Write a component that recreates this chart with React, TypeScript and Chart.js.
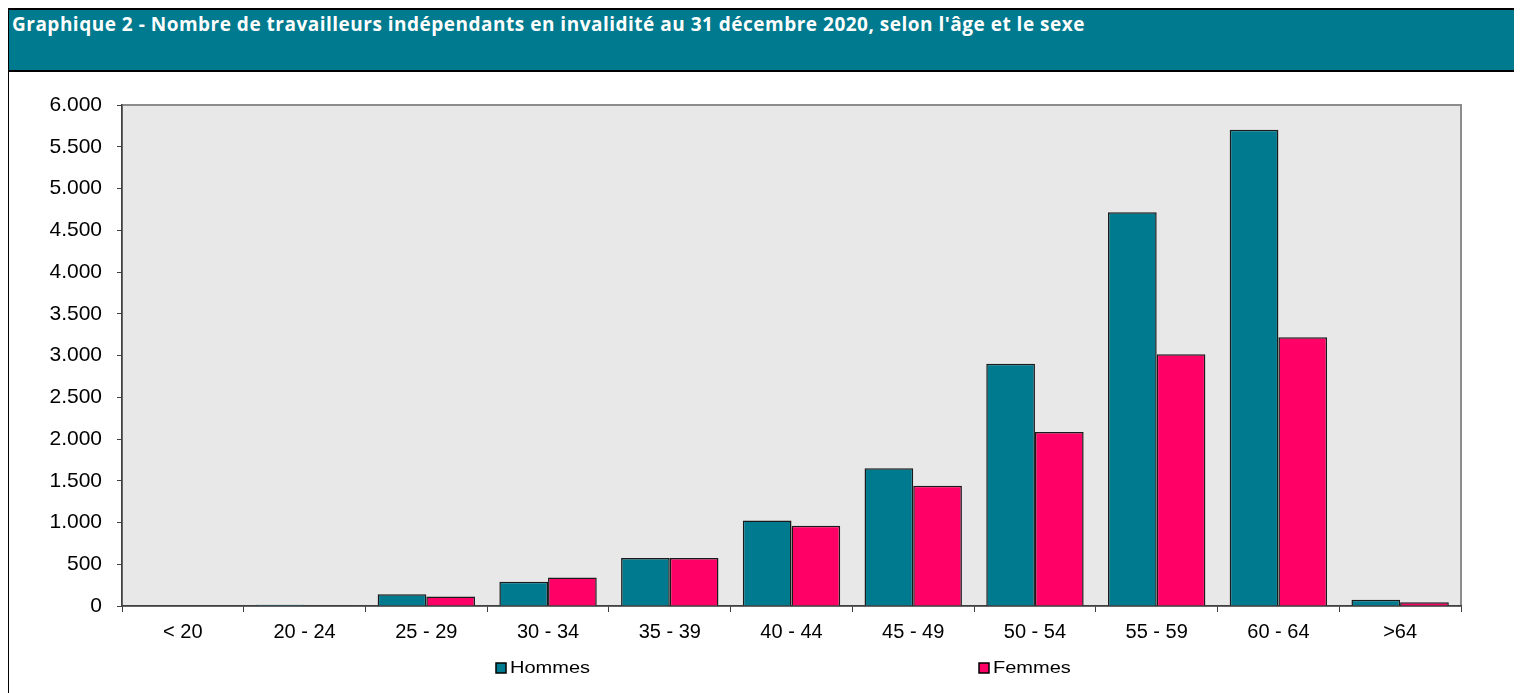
import React, { useEffect, useRef } from "react";
import { Chart, registerables } from "chart.js";

Chart.register(...registerables);

const TITLE =
  "Graphique 2 - Nombre de travailleurs indépendants en invalidité au 31 décembre 2020, selon l'âge et le sexe";

const categories = ["< 20", "20 - 24", "25 - 29", "30 - 34", "35 - 39", "40 - 44", "45 - 49", "50 - 54", "55 - 59", "60 - 64", ">64"];
const hommes = [0, 15, 140, 290, 575, 1025, 1650, 2900, 4715, 5705, 75];
const femmes = [0, 8, 115, 340, 575, 960, 1440, 2085, 3015, 3220, 45];
const seriesLabels = ["Hommes", "Femmes"];
const seriesColors = ["#007A8E", "#FF0066"];
const yMax = 6000;
const yStep = 500;

const TEAL = "#007A8E";

const plotBg = {
  id: "plotBg",
  beforeDraw(chart: any) {
    const { ctx, chartArea: a } = chart;
    ctx.save();
    ctx.fillStyle = "#E8E8E8";
    ctx.fillRect(a.left, a.top, a.right - a.left, a.bottom - a.top);
    ctx.strokeStyle = "#8C8C8C";
    ctx.lineWidth = 2;
    ctx.strokeRect(a.left, a.top, a.right - a.left, a.bottom - a.top);
    ctx.restore();
  },
};

const customLegend = {
  id: "customLegend",
  afterDraw(chart: any) {
    const { ctx } = chart;
    const xs = [487, 970];
    const y = 595;
    ctx.save();
    chart.data.datasets.forEach((ds: any, i: number) => {
      const x = xs[i];
      ctx.fillStyle = ds.backgroundColor;
      ctx.fillRect(x, y - 5, 10, 10);
      ctx.strokeStyle = "#000";
      ctx.lineWidth = 1.5;
      ctx.strokeRect(x, y - 5, 10, 10);
      ctx.fillStyle = "#000";
      ctx.textBaseline = "middle";
      ctx.textAlign = "left";
      ctx.font = "16px 'Liberation Sans', Arial, sans-serif";
      ctx.save();
      ctx.translate(x + 14, y + 1);
      ctx.scale(1.25, 1);
      ctx.fillText(ds.label, 0, 0);
      ctx.restore();
    });
    ctx.restore();
  },
};

export default function App() {
  const ref = useRef<HTMLCanvasElement | null>(null);

  useEffect(() => {
    if (!ref.current) return;
    const chart = new Chart(ref.current, {
      type: "bar",
      data: {
        labels: categories,
        datasets: [
          {
            label: seriesLabels[0],
            data: hommes,
            backgroundColor: seriesColors[0],
            borderColor: "#1a1a1a",
            borderWidth: 1.5,
            categoryPercentage: 0.8,
            barPercentage: 1.0,
          },
          {
            label: seriesLabels[1],
            data: femmes,
            backgroundColor: seriesColors[1],
            borderColor: "#1a1a1a",
            borderWidth: 1.5,
            categoryPercentage: 0.8,
            barPercentage: 1.0,
          },
        ],
      },
      options: {
        animation: false,
        responsive: false,
        maintainAspectRatio: false,
        layout: { padding: { left: 0, right: 56, top: 32, bottom: 0 } },
        plugins: {
          legend: { display: false },
          tooltip: { enabled: false },
          title: { display: false },
        },
        scales: {
          x: {
            grid: {
              display: true,
              drawOnChartArea: false,
              drawTicks: true,
              tickLength: 6,
              color: "#404040",
              offset: true,
            },
            border: { display: true, color: "#404040", width: 1.5 },
            ticks: {
              color: "#000",
              font: { family: "'Liberation Sans', Arial, sans-serif", size: 20 },
              padding: 8,
              maxRotation: 0,
              autoSkip: false,
            },
            afterFit(scale: any) {
              scale.height = 89;
            },
          },
          y: {
            min: 0,
            max: yMax,
            grid: {
              display: true,
              drawOnChartArea: false,
              drawTicks: true,
              tickLength: 5,
              color: "#404040",
            },
            border: { display: true, color: "#404040", width: 1.5 },
            ticks: {
              stepSize: yStep,
              color: "#000",
              padding: 15,
              font: { family: "'Liberation Sans', Arial, sans-serif", size: 21 },
              callback: (v: any) => Number(v).toLocaleString("de-DE"),
            },
            afterFit(scale: any) {
              scale.width = 113;
            },
          },
        },
      },
      plugins: [plotBg, customLegend],
    });
    return () => chart.destroy();
  }, []);

  return (
    <div
      style={{
        position: "relative",
        width: 1512,
        height: 700,
        marginLeft: -1,
        border: "2px solid #000",
        boxSizing: "border-box",
        overflow: "hidden",
        background: "#fff",
      }}
    >
      <div
        style={{
          height: 57,
          background: TEAL,
          borderBottom: "2px solid #000",
          color: "#fff",
          fontFamily: "'Open Sans', sans-serif",
          fontWeight: 700,
          fontSize: 19,
          letterSpacing: 0.5,
          padding: "3px 0 0 3px",
          boxSizing: "content-box",
          lineHeight: "22px",
          whiteSpace: "nowrap",
        }}
      >
        {TITLE}
      </div>
      <canvas
        ref={ref}
        width={1508}
        height={622}
        style={{ position: "absolute", left: 0, top: 63, width: 1508, height: 622 }}
      />
    </div>
  );
}
